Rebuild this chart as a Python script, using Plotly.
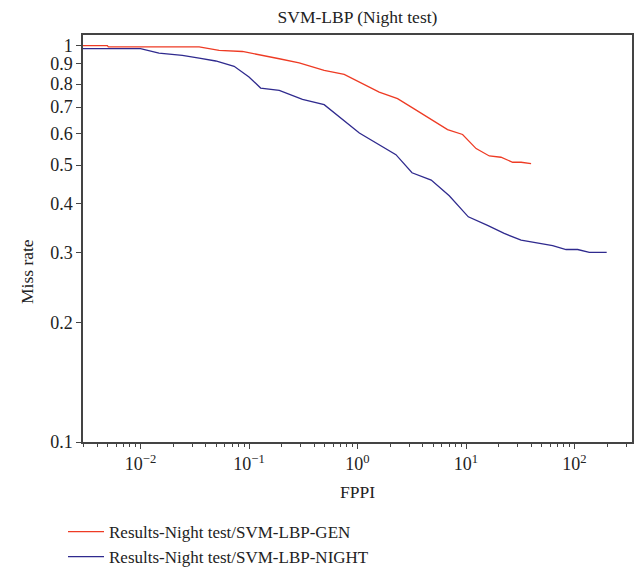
import plotly.graph_objects as go

# GEN series (red)
gen_fppi = [0.0029, 0.00495, 0.00505, 0.0347, 0.053, 0.0869, 0.19, 0.29, 0.493, 0.754,
            1.585, 2.34, 3.33, 4.92, 6.76, 9.3, 12.4, 16.4, 21.0, 26.9, 32.2, 39.8]
gen_miss = [1.0, 1.0, 0.993, 0.993, 0.973, 0.967, 0.927, 0.905, 0.866, 0.846,
            0.764, 0.735, 0.693, 0.648, 0.614, 0.597, 0.550, 0.527, 0.523, 0.508, 0.508, 0.504]

# NIGHT series (blue)
night_fppi = [0.0029, 0.0100, 0.0148, 0.0243, 0.0347, 0.0494, 0.0729, 0.100, 0.128, 0.19,
              0.311, 0.493, 1.04, 2.26, 3.18, 4.78, 7.01, 10.5, 15.8, 22.5, 32.2,
              62.9, 83.6, 107, 137, 198]
night_miss = [0.983, 0.983, 0.958, 0.945, 0.930, 0.915, 0.887, 0.834, 0.782, 0.771,
              0.732, 0.710, 0.602, 0.531, 0.478, 0.458, 0.418, 0.370, 0.352, 0.336, 0.323,
              0.313, 0.306, 0.306, 0.301, 0.301]

series_names = ["Results-Night test/SVM-LBP-GEN", "Results-Night test/SVM-LBP-NIGHT"]

y_ticks = [0.1, 0.2, 0.3, 0.4, 0.5, 0.6, 0.7, 0.8, 0.9, 1]
y_ticktext = ["0.1", "0.2", "0.3", "0.4", "0.5", "0.6", "0.7", "0.8", "0.9", "1"]
x_ticks = [0.01, 0.1, 1, 10, 100]
x_ticktext = ["10<sup>−2</sup>", "10<sup>−1</sup>", "10<sup>0</sup>", "10<sup>1</sup>", "10<sup>2</sup>"]

FONT = "Liberation Serif"
AXC = "#444444"
TXT = "#222222"

minor_vals = [m * 10.0 ** e for e in range(-3, 3) for m in range(2, 10)]

fig = go.Figure()
fig.add_trace(go.Scatter(x=gen_fppi, y=gen_miss, mode="lines", name=series_names[0],
                         line=dict(color="#ee3b24", width=1.3)))
fig.add_trace(go.Scatter(x=night_fppi, y=night_miss, mode="lines", name=series_names[1],
                         line=dict(color="#2f2a8e", width=1.3)))

fig.update_layout(
    width=636, height=571,
    margin=dict(l=83, r=4, t=35, b=129, autoexpand=False),
    paper_bgcolor="white", plot_bgcolor="white",
    font=dict(family=FONT, size=17, color=TXT),
    title=dict(text="SVM-LBP (Night test)", x=0.5, xref="paper", y=1 - 17 / 571,
               yref="container", xanchor="center", yanchor="middle",
               font=dict(family=FONT, size=17.5, color=TXT)),
    showlegend=True,
    legend=dict(x=63 / 636, y=1 - 514 / 571, xanchor="left", yanchor="top",
                xref="container", yref="container", bgcolor="rgba(0,0,0,0)",
                font=dict(family=FONT, size=17, color=TXT),
                itemwidth=36, tracegroupgap=0),
    annotations=[dict(text="Miss rate", textangle=-90, showarrow=False,
                      xref="paper", yref="paper", x=(27 - 83) / 549, y=(442 - 271) / 407,
                      xanchor="center", yanchor="middle",
                      font=dict(family=FONT, size=17.5, color=TXT))],
)

fig.update_xaxes(
    type="log", range=[-2.53, 2.53], automargin=True,
    showgrid=False, zeroline=False,
    showline=True, linecolor=AXC, linewidth=1.5, mirror=True,
    tickmode="array", tickvals=x_ticks, ticktext=x_ticktext,
    ticks="outside", ticklen=5, tickcolor=AXC, tickwidth=1,
    minor=dict(tickmode="array", tickvals=minor_vals, ticks="outside", ticklen=3,
               tickcolor=AXC, tickwidth=1, showgrid=False),
    tickfont=dict(family=FONT, size=18, color=TXT),
    title=dict(text="FPPI", font=dict(family=FONT, size=17.5, color=TXT), standoff=12),
)
fig.update_yaxes(
    type="log", range=[-1, 0.027], automargin=True,
    showgrid=False, zeroline=False,
    showline=True, linecolor=AXC, linewidth=1.5, mirror=True,
    tickmode="array", tickvals=y_ticks, ticktext=y_ticktext,
    ticks="outside", ticklen=5, tickcolor=AXC, tickwidth=1,
    tickfont=dict(family=FONT, size=18, color=TXT),
)

fig.write_html("out.html")
